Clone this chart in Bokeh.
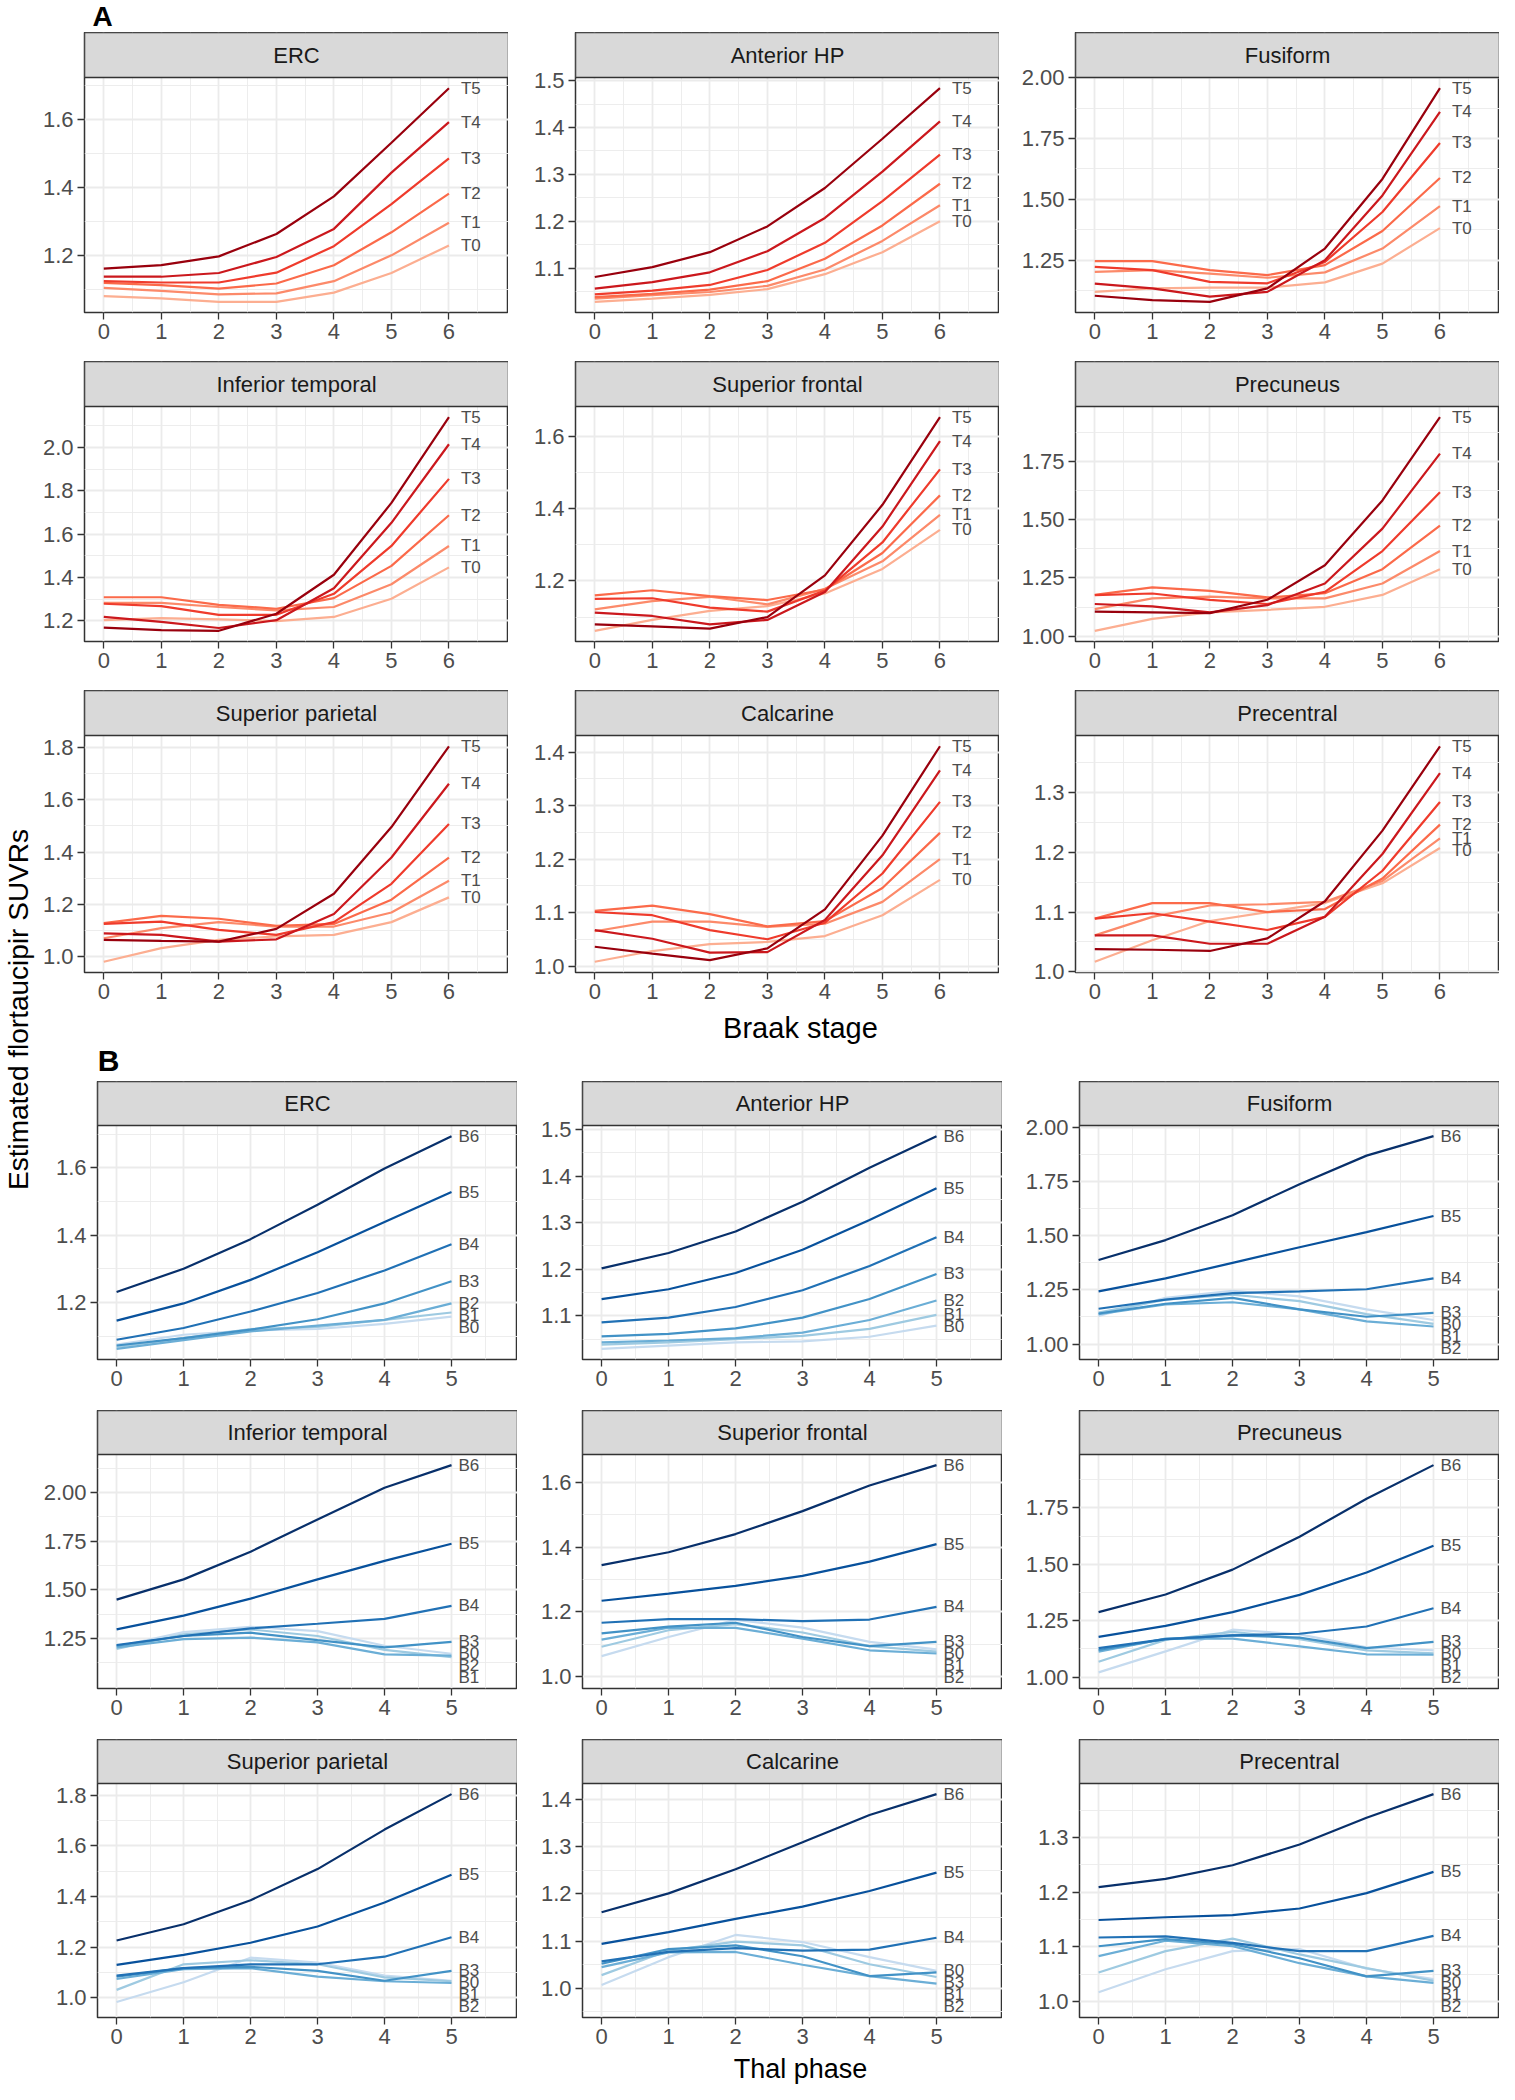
import math
from bokeh.plotting import figure
from bokeh.layouts import row, column
from bokeh.models import Range1d, FixedTicker
from bokeh.embed import file_html
from bokeh.resources import INLINE
from bokeh.core.properties import value

FONT = "Liberation Sans"

# ---------------- data ----------------
braak_stage = [0, 1, 2, 3, 4, 5, 6]
thal_phase = [0, 1, 2, 3, 4, 5]
tau_groups = ["T0", "T1", "T2", "T3", "T4", "T5"]
amy_groups = ["B0", "B1", "B2", "B3", "B4", "B5", "B6"]
regions = ["ERC", "Anterior HP", "Fusiform", "Inferior temporal", "Superior frontal",
           "Precuneus", "Superior parietal", "Calcarine", "Precentral"]

# Panel A: SUVR by Braak stage, one line per Thal group (T0..T5)
A_ERC = {"T0": [1.080, 1.073, 1.063, 1.063, 1.090, 1.148, 1.229],
         "T1": [1.104, 1.095, 1.085, 1.088, 1.124, 1.200, 1.296],
         "T2": [1.119, 1.112, 1.102, 1.117, 1.171, 1.268, 1.382],
         "T3": [1.124, 1.120, 1.120, 1.149, 1.227, 1.351, 1.486],
         "T4": [1.137, 1.137, 1.148, 1.195, 1.278, 1.444, 1.593],
         "T5": [1.161, 1.171, 1.197, 1.263, 1.374, 1.532, 1.693]}
A_ANTHP = {"T0": [1.028, 1.035, 1.043, 1.055, 1.087, 1.134, 1.200],
           "T1": [1.035, 1.042, 1.049, 1.062, 1.097, 1.158, 1.234],
           "T2": [1.038, 1.045, 1.054, 1.072, 1.120, 1.191, 1.280],
           "T3": [1.044, 1.052, 1.064, 1.096, 1.154, 1.243, 1.342],
           "T4": [1.056, 1.070, 1.091, 1.136, 1.207, 1.306, 1.413],
           "T5": [1.081, 1.102, 1.134, 1.189, 1.271, 1.376, 1.484]}
A_FUSI = {"T0": [1.120, 1.134, 1.137, 1.137, 1.159, 1.236, 1.382],
          "T1": [1.202, 1.209, 1.195, 1.178, 1.200, 1.298, 1.472],
          "T2": [1.246, 1.246, 1.209, 1.189, 1.230, 1.370, 1.588],
          "T3": [1.223, 1.209, 1.161, 1.155, 1.243, 1.448, 1.732],
          "T4": [1.154, 1.134, 1.100, 1.120, 1.250, 1.516, 1.860],
          "T5": [1.104, 1.086, 1.079, 1.134, 1.298, 1.584, 1.957]}
A_INFT = {"T0": [1.202, 1.212, 1.206, 1.198, 1.217, 1.301, 1.446],
          "T1": [1.282, 1.282, 1.263, 1.247, 1.263, 1.368, 1.545],
          "T2": [1.308, 1.308, 1.273, 1.255, 1.304, 1.453, 1.687],
          "T3": [1.278, 1.267, 1.227, 1.227, 1.324, 1.545, 1.855],
          "T4": [1.217, 1.194, 1.166, 1.202, 1.350, 1.652, 2.015],
          "T5": [1.168, 1.156, 1.153, 1.232, 1.412, 1.744, 2.140]}
A_SUPF = {"T0": [1.062, 1.092, 1.117, 1.130, 1.165, 1.233, 1.341],
          "T1": [1.121, 1.144, 1.156, 1.135, 1.178, 1.254, 1.382],
          "T2": [1.160, 1.174, 1.158, 1.147, 1.176, 1.277, 1.436],
          "T3": [1.150, 1.152, 1.126, 1.115, 1.173, 1.306, 1.508],
          "T4": [1.112, 1.103, 1.080, 1.092, 1.169, 1.350, 1.586],
          "T5": [1.080, 1.074, 1.068, 1.100, 1.215, 1.410, 1.652]}
A_PREC = {"T0": [1.023, 1.074, 1.102, 1.113, 1.126, 1.177, 1.287],
          "T1": [1.116, 1.162, 1.170, 1.162, 1.162, 1.226, 1.365],
          "T2": [1.177, 1.209, 1.194, 1.166, 1.184, 1.287, 1.474],
          "T3": [1.176, 1.183, 1.156, 1.138, 1.190, 1.365, 1.617],
          "T4": [1.138, 1.128, 1.102, 1.133, 1.226, 1.461, 1.783],
          "T5": [1.105, 1.102, 1.099, 1.156, 1.304, 1.582, 1.939]}
A_SUPP = {"T0": [0.979, 1.031, 1.063, 1.076, 1.082, 1.131, 1.226],
          "T1": [1.069, 1.108, 1.131, 1.114, 1.114, 1.168, 1.290],
          "T2": [1.127, 1.155, 1.144, 1.117, 1.124, 1.217, 1.379],
          "T3": [1.124, 1.133, 1.101, 1.082, 1.131, 1.278, 1.508],
          "T4": [1.088, 1.082, 1.056, 1.065, 1.162, 1.379, 1.662],
          "T5": [1.063, 1.059, 1.056, 1.105, 1.240, 1.496, 1.806]}
A_CALC = {"T0": [1.008, 1.028, 1.041, 1.045, 1.056, 1.095, 1.161],
          "T1": [1.065, 1.083, 1.083, 1.073, 1.079, 1.120, 1.200],
          "T2": [1.103, 1.113, 1.097, 1.074, 1.084, 1.146, 1.249],
          "T3": [1.101, 1.095, 1.067, 1.050, 1.081, 1.173, 1.307],
          "T4": [1.067, 1.051, 1.025, 1.026, 1.086, 1.207, 1.366],
          "T5": [1.036, 1.023, 1.011, 1.033, 1.106, 1.244, 1.411]}
A_PREC2 = {"T0": [1.017, 1.053, 1.085, 1.100, 1.115, 1.148, 1.207],
           "T1": [1.061, 1.092, 1.111, 1.113, 1.117, 1.152, 1.223],
           "T2": [1.089, 1.115, 1.115, 1.100, 1.105, 1.156, 1.246],
           "T3": [1.089, 1.098, 1.084, 1.070, 1.092, 1.169, 1.284],
           "T4": [1.061, 1.061, 1.047, 1.047, 1.092, 1.197, 1.332],
           "T5": [1.038, 1.037, 1.035, 1.056, 1.118, 1.236, 1.377]}

# Panel B: SUVR by Thal phase, one line per Braak group (B0..B6)
B_ERC = {"B0": [1.075, 1.104, 1.117, 1.121, 1.136, 1.158],
         "B1": [1.068, 1.094, 1.121, 1.127, 1.148, 1.170],
         "B2": [1.062, 1.088, 1.114, 1.131, 1.148, 1.197],
         "B3": [1.072, 1.094, 1.119, 1.150, 1.197, 1.263],
         "B4": [1.089, 1.124, 1.173, 1.228, 1.295, 1.373],
         "B5": [1.146, 1.197, 1.267, 1.349, 1.439, 1.528],
         "B6": [1.231, 1.300, 1.388, 1.490, 1.598, 1.694]}
B_ANTHP = {"B0": [1.029, 1.036, 1.043, 1.045, 1.055, 1.079],
           "B1": [1.038, 1.043, 1.050, 1.057, 1.072, 1.102],
           "B2": [1.043, 1.047, 1.052, 1.064, 1.091, 1.133],
           "B3": [1.056, 1.061, 1.073, 1.096, 1.136, 1.190],
           "B4": [1.086, 1.096, 1.119, 1.155, 1.207, 1.269],
           "B5": [1.136, 1.157, 1.192, 1.242, 1.306, 1.374],
           "B6": [1.202, 1.235, 1.281, 1.345, 1.418, 1.486]}
B_FUSI = {"B0": [1.130, 1.213, 1.246, 1.220, 1.160, 1.111],
          "B1": [1.145, 1.205, 1.228, 1.198, 1.138, 1.093],
          "B2": [1.138, 1.183, 1.193, 1.160, 1.105, 1.081],
          "B3": [1.141, 1.186, 1.213, 1.160, 1.126, 1.144],
          "B4": [1.163, 1.205, 1.235, 1.243, 1.253, 1.303],
          "B5": [1.243, 1.303, 1.375, 1.447, 1.517, 1.591],
          "B6": [1.388, 1.480, 1.595, 1.738, 1.870, 1.960]}
B_INFT = {"B0": [1.208, 1.283, 1.310, 1.288, 1.213, 1.172],
          "B1": [1.197, 1.272, 1.297, 1.263, 1.192, 1.155],
          "B2": [1.205, 1.247, 1.255, 1.230, 1.169, 1.162],
          "B3": [1.213, 1.263, 1.280, 1.242, 1.205, 1.233],
          "B4": [1.217, 1.263, 1.302, 1.326, 1.351, 1.418],
          "B5": [1.297, 1.368, 1.455, 1.554, 1.649, 1.737],
          "B6": [1.450, 1.554, 1.696, 1.862, 2.025, 2.141]}
B_SUPF = {"B0": [1.063, 1.122, 1.175, 1.151, 1.107, 1.084],
          "B1": [1.092, 1.143, 1.162, 1.136, 1.094, 1.077],
          "B2": [1.114, 1.151, 1.150, 1.117, 1.081, 1.071],
          "B3": [1.133, 1.154, 1.166, 1.122, 1.094, 1.107],
          "B4": [1.166, 1.177, 1.177, 1.171, 1.176, 1.215],
          "B5": [1.234, 1.256, 1.280, 1.311, 1.355, 1.409],
          "B6": [1.344, 1.384, 1.440, 1.511, 1.590, 1.653]}
B_PREC = {"B0": [1.021, 1.114, 1.210, 1.189, 1.132, 1.118],
          "B1": [1.068, 1.165, 1.200, 1.168, 1.118, 1.105],
          "B2": [1.113, 1.170, 1.170, 1.136, 1.101, 1.099],
          "B3": [1.120, 1.168, 1.185, 1.175, 1.128, 1.156],
          "B4": [1.128, 1.168, 1.185, 1.192, 1.224, 1.305],
          "B5": [1.178, 1.227, 1.288, 1.364, 1.463, 1.582],
          "B6": [1.288, 1.366, 1.476, 1.622, 1.790, 1.939]}
B_SUPP = {"B0": [0.983, 1.061, 1.158, 1.139, 1.087, 1.067],
          "B1": [1.031, 1.132, 1.148, 1.132, 1.080, 1.065],
          "B2": [1.074, 1.113, 1.117, 1.083, 1.065, 1.058],
          "B3": [1.083, 1.117, 1.122, 1.106, 1.067, 1.106],
          "B4": [1.087, 1.117, 1.132, 1.132, 1.162, 1.239],
          "B5": [1.130, 1.169, 1.217, 1.281, 1.376, 1.486],
          "B6": [1.226, 1.290, 1.385, 1.508, 1.664, 1.804]}
B_CALC = {"B0": [1.007, 1.066, 1.113, 1.098, 1.066, 1.037],
          "B1": [1.028, 1.080, 1.099, 1.091, 1.051, 1.024],
          "B2": [1.045, 1.076, 1.077, 1.050, 1.026, 1.010],
          "B3": [1.052, 1.083, 1.091, 1.068, 1.026, 1.034],
          "B4": [1.057, 1.077, 1.085, 1.080, 1.082, 1.107],
          "B5": [1.094, 1.119, 1.147, 1.173, 1.206, 1.245],
          "B6": [1.161, 1.201, 1.252, 1.309, 1.367, 1.411]}
B_PREC2 = {"B0": [1.017, 1.059, 1.092, 1.096, 1.060, 1.041],
           "B1": [1.053, 1.092, 1.115, 1.086, 1.061, 1.038],
           "B2": [1.083, 1.111, 1.101, 1.070, 1.046, 1.034],
           "B3": [1.101, 1.114, 1.105, 1.079, 1.046, 1.056],
           "B4": [1.117, 1.119, 1.107, 1.092, 1.092, 1.120],
           "B5": [1.149, 1.154, 1.158, 1.170, 1.198, 1.237],
           "B6": [1.209, 1.224, 1.249, 1.287, 1.336, 1.379]}

A_data = [A_ERC, A_ANTHP, A_FUSI, A_INFT, A_SUPF, A_PREC, A_SUPP, A_CALC, A_PREC2]
B_data = [B_ERC, B_ANTHP, B_FUSI, B_INFT, B_SUPF, B_PREC, B_SUPP, B_CALC, B_PREC2]

# y tick values per panel (tick labels)
A_yticks = [[1.2, 1.4, 1.6], [1.1, 1.2, 1.3, 1.4, 1.5], [1.25, 1.50, 1.75, 2.00],
            [1.2, 1.4, 1.6, 1.8, 2.0], [1.2, 1.4, 1.6], [1.00, 1.25, 1.50, 1.75],
            [1.0, 1.2, 1.4, 1.6, 1.8], [1.0, 1.1, 1.2, 1.3, 1.4], [1.0, 1.1, 1.2, 1.3]]
A_ylabels = [["1.2", "1.4", "1.6"], ["1.1", "1.2", "1.3", "1.4", "1.5"],
             ["1.25", "1.50", "1.75", "2.00"], ["1.2", "1.4", "1.6", "1.8", "2.0"],
             ["1.2", "1.4", "1.6"], ["1.00", "1.25", "1.50", "1.75"],
             ["1.0", "1.2", "1.4", "1.6", "1.8"], ["1.0", "1.1", "1.2", "1.3", "1.4"],
             ["1.0", "1.1", "1.2", "1.3"]]
B_yticks = [[1.2, 1.4, 1.6], [1.1, 1.2, 1.3, 1.4, 1.5], [1.00, 1.25, 1.50, 1.75, 2.00],
            [1.25, 1.50, 1.75, 2.00], [1.0, 1.2, 1.4, 1.6], [1.00, 1.25, 1.50, 1.75],
            [1.0, 1.2, 1.4, 1.6, 1.8], [1.0, 1.1, 1.2, 1.3, 1.4], [1.0, 1.1, 1.2, 1.3]]
B_ylabels = [["1.2", "1.4", "1.6"], ["1.1", "1.2", "1.3", "1.4", "1.5"],
             ["1.00", "1.25", "1.50", "1.75", "2.00"], ["1.25", "1.50", "1.75", "2.00"],
             ["1.0", "1.2", "1.4", "1.6"], ["1.00", "1.25", "1.50", "1.75"],
             ["1.0", "1.2", "1.4", "1.6", "1.8"], ["1.0", "1.1", "1.2", "1.3", "1.4"],
             ["1.0", "1.1", "1.2", "1.3"]]

tau_colors = ["#FCAE91", "#FC8A6A", "#FB6A4A", "#EF3B2C", "#CB181D", "#99000D"]
amy_colors = ["#C6DBEF", "#9ECAE1", "#6BAED6", "#4292C6", "#2171B5", "#08519C", "#08306B"]

# ---------------- layout constants ----------------
TITLE_W = 36
MAIN_W = 1463
TOTAL_H = 2084
TICK_COL = "#333333"
LAB_COL = "#4D4D4D"
GRID_COL = "#EBEBEB"


def push_down(ends, y0, y1, h, gap):
    scale = h / (y1 - y0)
    order = sorted(range(len(ends)), key=lambda i: -ends[i])
    out = [0.0] * len(ends)
    prev = None
    for i in order:
        py = (y1 - ends[i]) * scale
        if prev is not None and py < prev + gap:
            py = prev + gap
        out[i] = y1 - py / scale
        prev = py
    return out


def y_extent(series, groups, frame_h, gap=12.0):
    vals = [v for g in groups for v in series[g]]
    ends = [series[g][-1] for g in groups]
    lo, hi = min(vals), max(vals)
    labels = ends
    for _ in range(8):
        r = hi - lo
        y0, y1 = lo - 0.05 * r, hi + 0.05 * r
        labels = push_down(ends, y0, y1, frame_h, gap)
        lo = min(vals + labels)
        hi = max(vals + labels)
    r = hi - lo
    return lo - 0.05 * r, hi + 0.05 * r, labels


def panel_fig(title, series, groups, colors, xs, xr, yticks, ylabels, frame_w, frame_h,
              strip_h, left, bottom, label_dx):
    y0, y1, label_y = y_extent(series, groups, frame_h)
    ytop = y1 + strip_h * (y1 - y0) / frame_h
    p = figure(frame_width=frame_w, frame_height=frame_h + strip_h, x_range=Range1d(*xr),
               y_range=Range1d(y0, ytop), min_border_left=left, min_border_right=0,
               min_border_top=0, min_border_bottom=bottom, toolbar_location=None,
               output_backend="svg")
    p.background_fill_color = "white"
    p.border_fill_color = "white"
    p.outline_line_color = "#333333"
    p.outline_line_width = 1.5
    xminor = [x + 0.5 for x in xs]
    p.xaxis.ticker = FixedTicker(ticks=xs, minor_ticks=xminor)
    step = yticks[1] - yticks[0]
    yminor = [yticks[0] + step * (k + 0.5) for k in range(-3, len(yticks) + 2)]
    yminor = [m for m in yminor if m < y1]
    p.yaxis.ticker = FixedTicker(ticks=yticks, minor_ticks=yminor)
    p.yaxis.major_label_overrides = {float(t): s for t, s in zip(yticks, ylabels)}
    p.xaxis.major_label_overrides = {float(x): str(x) for x in xs}
    for ax in (p.xaxis, p.yaxis):
        ax.axis_line_color = None
        ax.major_tick_line_color = TICK_COL
        ax.major_tick_line_width = 1.3
        ax.major_tick_out = 7
        ax.major_tick_in = 0
        ax.minor_tick_line_color = None
        ax.major_label_text_font = FONT
        ax.major_label_text_font_size = "22px"
        ax.major_label_text_color = LAB_COL
        ax.major_label_standoff = 4
    for g in (p.xgrid, p.ygrid):
        g.grid_line_color = GRID_COL
        g.grid_line_width = 1.8
        g.minor_grid_line_color = GRID_COL
        g.minor_grid_line_width = 0.9
    # facet strip (grey header) drawn at the top of the frame
    p.quad(left=[xr[0]], right=[xr[1]], bottom=[y1], top=[ytop], fill_color="#D9D9D9",
           line_color="#333333", line_width=1.5)
    p.text(x=[(xr[0] + xr[1]) / 2], y=[(y1 + ytop) / 2], text=[title], text_align="center",
           text_baseline="middle", text_font=value(FONT), text_font_size="22px",
           text_color="#1A1A1A")
    for grp, col in zip(groups, colors):
        p.line(xs, series[grp], line_color=col, line_width=2.2)
    p.text(x=[xs[-1]] * len(groups), y=label_y, text=groups, x_offset=label_dx,
           text_align="left", text_baseline="middle", text_font=value(FONT),
           text_font_size="17px", text_color=LAB_COL)
    return p


def band(h, texts):
    b = figure(width=MAIN_W, height=h, x_range=Range1d(0, MAIN_W), y_range=Range1d(0, h),
               min_border=0, toolbar_location=None, output_backend="svg")
    b.axis.visible = False
    b.grid.visible = False
    b.outline_line_color = None
    b.background_fill_color = "white"
    for (tx, ty, t, size, style) in texts:
        b.text(x=[tx], y=[h - ty], text=[t], text_align="center", text_baseline="middle",
               text_font=value(FONT), text_font_size=size, text_font_style=style,
               text_color="black")
    return b


A_lefts = [48, 67, 76]
A_w = 424
A_frames = [235, 235, 237]
A_bottoms = [49, 49, 38]
B_lefts = [61, 65, 77]
B_w = 420
B_frames = [234, 234, 234]
B_bottoms = [51, 51, 36]

rows = []
rows.append(band(32, [(66, 16, "A", "28px", "bold")]))
for r in range(3):
    cols = []
    for c in range(3):
        k = r * 3 + c
        cols.append(panel_fig(regions[k], A_data[k], tau_groups, tau_colors, braak_stage,
                              (-0.335, 7.035), A_yticks[k], A_ylabels[k], A_w, A_frames[r],
                              45, A_lefts[c], A_bottoms[r], 12))
    rows.append(row(*cols, spacing=0))
rows.append(band(71, [(764, 17, "Braak stage", "29px", "normal"),
                      (72, 50, "B", "30px", "bold")]))
for r in range(3):
    cols = []
    for c in range(3):
        k = r * 3 + c
        cols.append(panel_fig(regions[k], B_data[k], amy_groups, amy_colors, thal_phase,
                              (-0.285, 5.985), B_yticks[k], B_ylabels[k], B_w, B_frames[r],
                              44, B_lefts[c], B_bottoms[r], 7))
    rows.append(row(*cols, spacing=0))
rows.append(band(31, [(764, 15, "Thal phase", "27px", "normal")]))

main = column(*rows, spacing=0)

yt = figure(width=TITLE_W, height=TOTAL_H, x_range=Range1d(0, TITLE_W),
            y_range=Range1d(0, TOTAL_H), min_border=0, toolbar_location=None,
            output_backend="svg")
yt.axis.visible = False
yt.grid.visible = False
yt.outline_line_color = None
yt.text(x=[18], y=[TOTAL_H - 1009], text=["Estimated flortaucipir SUVRs"], angle=math.pi / 2,
        text_align="center", text_baseline="middle", text_font=value(FONT),
        text_font_size="28px", text_color="black")

layout = row(yt, main, spacing=0)

open("out.html", "w").write(file_html(layout, INLINE))
